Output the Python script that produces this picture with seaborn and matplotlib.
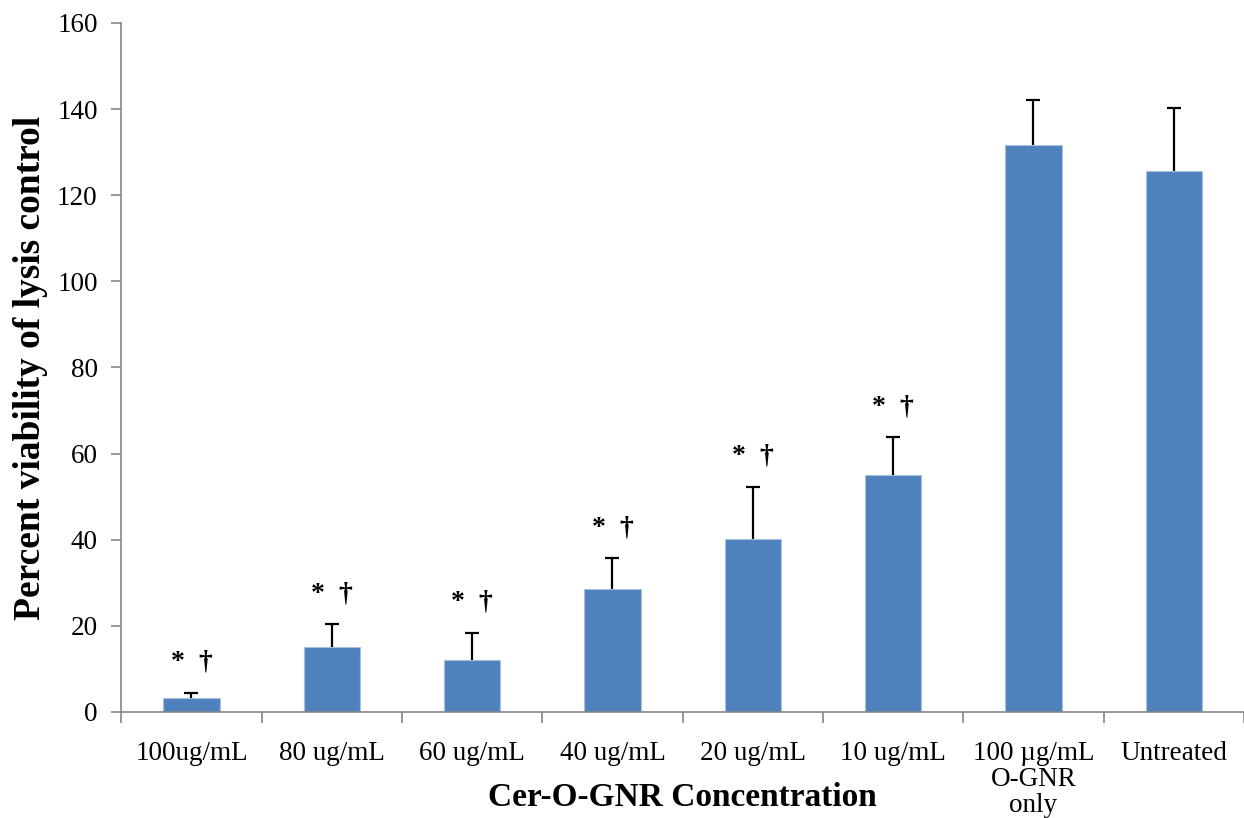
import numpy as np
import pandas as pd
import seaborn as sns
import matplotlib.pyplot as plt
from matplotlib.ticker import FixedLocator

categories = ["100ug/mL", "80 ug/mL", "60 ug/mL", "40 ug/mL", "20 ug/mL",
              "10 ug/mL", "100 \u00b5g/mL\nO-GNR\nonly", "Untreated"]
viability = [3.3, 15.2, 12.1, 28.5, 40.1, 55.0, 131.6, 125.7]
err_upper = [1.1, 5.2, 6.3, 7.2, 12.2, 8.8, 10.4, 14.6]
marks = ["*  \u2020"] * 6 + ["", ""]

sns.set_theme(style="white")
plt.rcParams['font.family'] = ['Liberation Serif', 'DejaVu Serif']
plt.rcParams['text.color'] = 'black'
plt.rcParams['axes.labelcolor'] = 'black'
plt.rcParams['xtick.color'] = 'black'
plt.rcParams['ytick.color'] = 'black'

df = pd.DataFrame({"Concentration": categories, "Viability": viability})

fig = plt.figure(figsize=(12.44, 8.18), dpi=100)
ax = fig.add_axes([0.0975, 0.1296, 0.9025, 0.8423])

sns.barplot(data=df, x="Concentration", y="Viability", color="#4F81BD",
            saturation=1, width=0.4, edgecolor="#A8C1E0", linewidth=0.8, ax=ax)

xs = np.arange(len(categories))
eb = ax.errorbar(xs, viability, yerr=[np.zeros(len(xs)), err_upper], fmt="none",
                 ecolor="black", elinewidth=1.6, capsize=5, capthick=1.6)
# only the upper cap is drawn in the original
eb[1][0].set_visible(False)

for x, v, e, m in zip(xs, viability, err_upper, marks):
    if m:
        ax.annotate(m, (x, v + e), xytext=(0, 13), textcoords="offset points",
                    ha="center", va="bottom", fontsize=20, fontweight="bold")

ax.set_xlim(-0.5, len(categories) - 0.5)
ax.set_ylim(0, 160)
ax.set_yticks(range(0, 161, 20))

sns.despine(ax=ax, top=True, right=True)
for side in ["left", "bottom"]:
    ax.spines[side].set_color("#868686")
    ax.spines[side].set_linewidth(1.2)

ax.tick_params(axis="y", which="major", left=True, length=7, width=1.2,
               color="#868686", labelcolor="black", labelsize=19.5, pad=10)
ax.tick_params(axis="x", which="major", bottom=False, labelcolor="black",
               labelsize=19.5, pad=15)
for t in ax.get_xticklabels():
    t.set_linespacing(1.05)
ax.xaxis.set_minor_locator(FixedLocator(np.arange(-0.5, len(categories), 1)))
ax.tick_params(axis="x", which="minor", bottom=True, length=8, width=1.2,
               color="#868686")

ax.set_xlabel("Cer-O-GNR Concentration", fontsize=24, fontweight="bold",
              color="black", va="center")
ax.xaxis.set_label_coords(0.5, -0.124)
ax.set_ylabel("Percent viability of lysis control", fontsize=27, fontweight="bold",
              color="black", va="center")
ax.yaxis.set_label_coords(-0.081, 0.5)

fig.savefig("out.png", dpi=100)
